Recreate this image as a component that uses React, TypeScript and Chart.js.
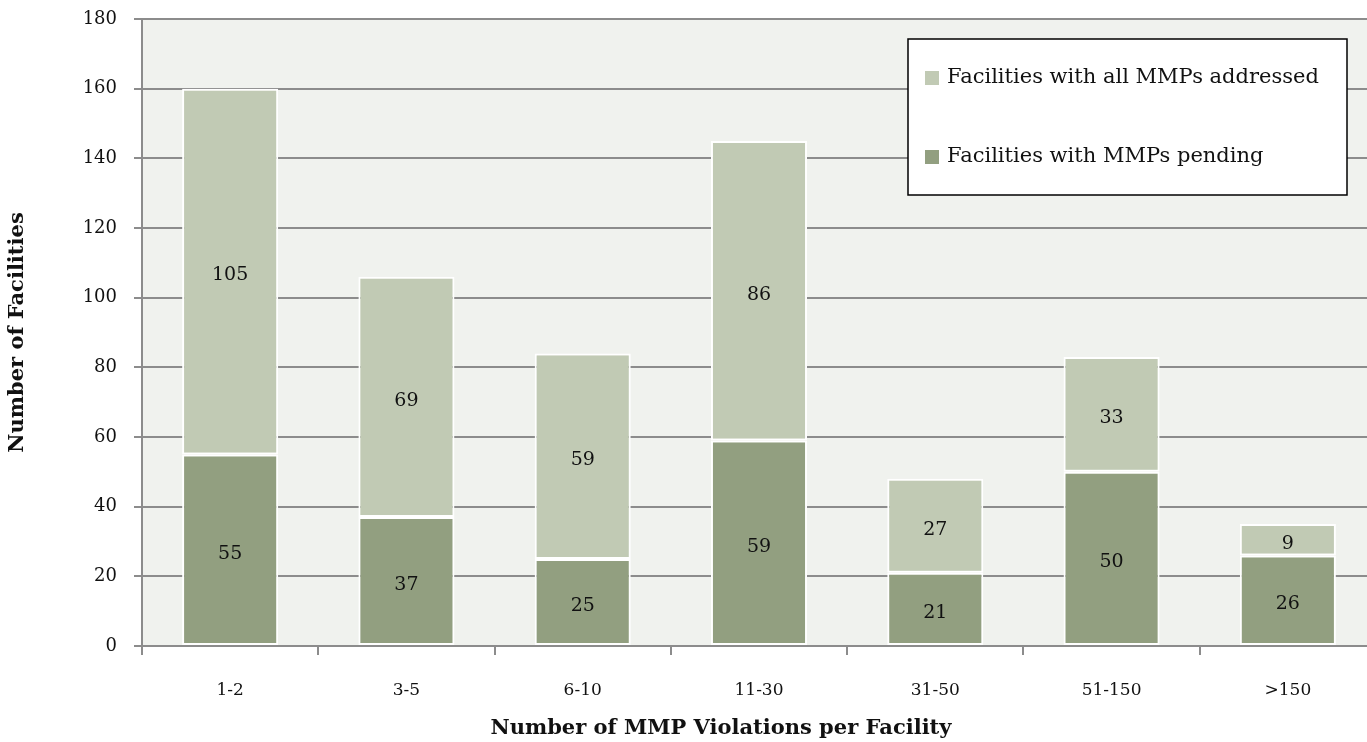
import React, { useEffect, useRef } from "react";
import { Chart, registerables } from "chart.js";

Chart.register(...registerables);

const categories = ["1-2", "3-5", "6-10", "11-30", "31-50", "51-150", ">150"];
const pending = [55, 37, 25, 59, 21, 50, 26];
const addressed = [105, 69, 59, 86, 27, 33, 9];
const yTicks = [0, 20, 40, 60, 80, 100, 120, 140, 160, 180];
const pendingLabel = "Facilities with MMPs pending";
const addressedLabel = "Facilities with all MMPs addressed";
const xTitle = "Number of MMP Violations per Facility";
const yTitle = "Number of Facilities";

const FONT = "'DejaVu Serif', 'Liberation Serif', serif";
const GRID = "#8c8c8c";

const plotBg = {
  id: "plotBg",
  beforeDraw(chart: any) {
    const { ctx, chartArea } = chart;
    ctx.save();
    ctx.fillStyle = "#f0f2ee";
    ctx.fillRect(chartArea.left, chartArea.top, chartArea.right - chartArea.left, chartArea.bottom - chartArea.top);
    ctx.restore();
  },
};

const dataLabels = {
  id: "dataLabels",
  afterDatasetsDraw(chart: any) {
    const { ctx } = chart;
    ctx.save();
    ctx.fillStyle = "#111111";
    ctx.font = `19px ${FONT}`;
    ctx.textAlign = "center";
    ctx.textBaseline = "middle";
    chart.data.datasets.forEach((ds: any, di: number) => {
      const meta = chart.getDatasetMeta(di);
      meta.data.forEach((el: any, i: number) => {
        const v = ds.data[i];
        const cy = (el.y + el.base) / 2;
        ctx.fillText(String(v), el.x, cy + 4);
      });
    });
    ctx.restore();
  },
};

const xTitlePlugin = {
  id: "xTitlePlugin",
  afterDraw(chart: any) {
    const { ctx } = chart;
    ctx.save();
    ctx.fillStyle = "#111111";
    ctx.font = `bold 21px ${FONT}`;
    ctx.textAlign = "center";
    ctx.textBaseline = "middle";
    ctx.fillText(xTitle, 721, 729);
    ctx.restore();
  },
};

const boxLegend = {
  id: "boxLegend",
  afterDraw(chart: any) {
    const { ctx } = chart;
    const x = 908, y = 39, w = 439, h = 156;
    ctx.save();
    ctx.fillStyle = "#ffffff";
    ctx.fillRect(x, y, w, h);
    ctx.strokeStyle = "#000000";
    ctx.lineWidth = 1.5;
    ctx.strokeRect(x, y, w, h);
    const items = [chart.data.datasets[1], chart.data.datasets[0]];
    const rows = [78, 157];
    ctx.font = `21px ${FONT}`;
    ctx.textAlign = "left";
    ctx.textBaseline = "middle";
    items.forEach((ds: any, i: number) => {
      ctx.fillStyle = ds.backgroundColor;
      ctx.fillRect(925, rows[i] - 7, 14, 14);
      ctx.fillStyle = "#111111";
      ctx.fillText(ds.label, 947, rows[i]);
    });
    ctx.restore();
  },
};

export default function App() {
  const ref = useRef<HTMLCanvasElement | null>(null);

  useEffect(() => {
    if (!ref.current) return;
    const chart = new Chart(ref.current, {
      type: "bar",
      data: {
        labels: categories,
        datasets: [
          {
            label: pendingLabel,
            data: pending,
            backgroundColor: "#929f80",
            borderColor: "#ffffff",
            borderWidth: 2,
            borderSkipped: false,
          },
          {
            label: addressedLabel,
            data: addressed,
            backgroundColor: "#c1cab4",
            borderColor: "#ffffff",
            borderWidth: 2,
            borderSkipped: false,
          },
        ],
      },
      options: {
        responsive: false,
        animation: false,
        events: [],
        layout: { padding: { top: 19, right: 0, bottom: 0, left: 0 } },
        datasets: { bar: { categoryPercentage: 1, barPercentage: 0.545 } },
        plugins: {
          legend: { display: false },
          tooltip: { enabled: false },
          title: { display: false },
        },
        scales: {
          x: {
            stacked: true,
            z: 1,
            afterFit: (s: any) => { s.height = 96; s.paddingLeft = 0; s.paddingRight = 0; },
            grid: {
              offset: true,
              drawOnChartArea: false,
              drawTicks: true,
              tickLength: 9,
              tickColor: GRID,
              lineWidth: 2,
            },
            border: { display: true, color: GRID, width: 2 },
            ticks: {
              color: "#111111",
              font: { family: FONT, size: 17 },
              padding: 25,
              maxRotation: 0,
            },
            title: { display: false },
          },
          y: {
            stacked: true,
            min: 0,
            max: 180,
            afterFit: (s: any) => { s.width = 142; s.paddingTop = 0; s.paddingBottom = 0; },
            afterBuildTicks: (s: any) => { s.ticks = yTicks.map((v) => ({ value: v })); },
            grid: {
              color: GRID,
              lineWidth: 2,
              tickLength: 8,
              tickColor: GRID,
            },
            border: { display: true, color: GRID, width: 2 },
            ticks: {
              color: "#111111",
              font: { family: FONT, size: 18 },
              padding: 17,
            },
            title: {
              display: true,
              text: yTitle,
              color: "#111111",
              font: { family: FONT, size: 21, weight: "bold" },
              padding: { top: 5, bottom: 0 },
            },
          },
        },
      },
      plugins: [plotBg, dataLabels, xTitlePlugin, boxLegend],
    });
    return () => chart.destroy();
  }, []);

  return (
    <div style={{ position: "fixed", top: 0, left: 0, width: 1367, height: 742, overflow: "hidden", background: "#ffffff" }}>
      <canvas ref={ref} width={1376} height={742} style={{ width: 1376, height: 742, display: "block" }} />
    </div>
  );
}
